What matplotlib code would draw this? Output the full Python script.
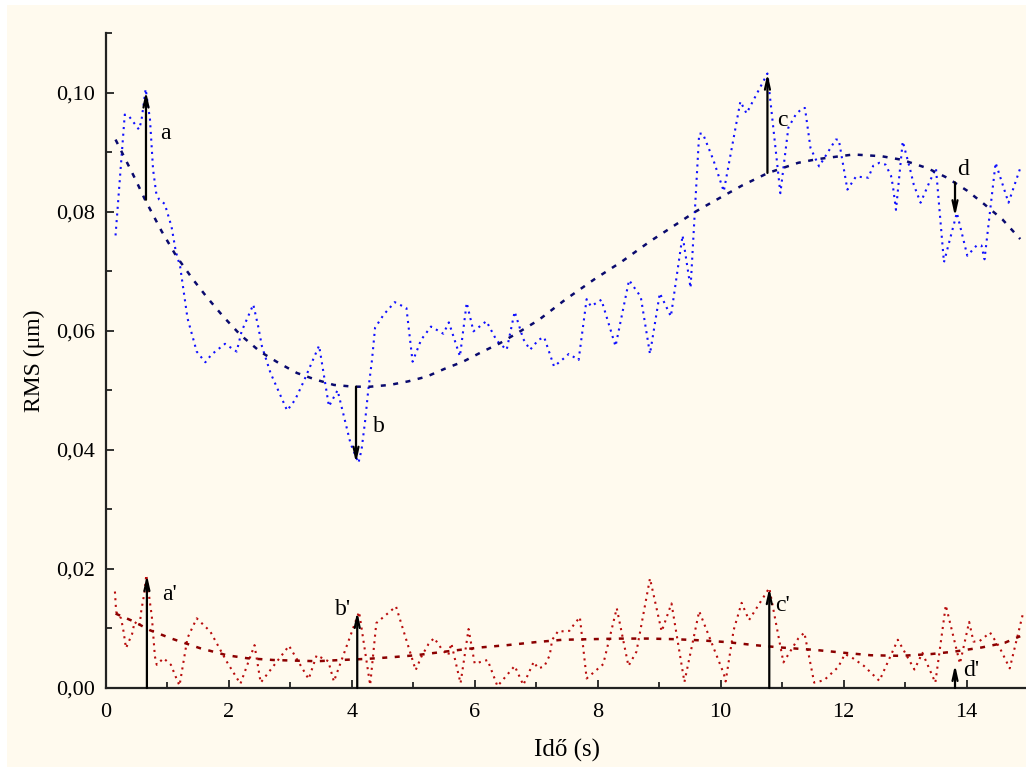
import matplotlib
matplotlib.use('Agg')
import matplotlib.pyplot as plt
from matplotlib.ticker import MultipleLocator, FuncFormatter
from matplotlib.patches import Rectangle

# measured RMS, upper series (blue)
t_blue = [0.16, 0.31, 0.38, 0.46, 0.54, 0.58, 0.65, 0.72, 0.77, 0.82, 0.87, 0.96,
          1.07, 1.14, 1.21, 1.33, 1.48, 1.62, 1.72, 1.94, 2.13, 2.21, 2.40, 2.48,
          2.54, 2.68, 2.95, 3.08, 3.22, 3.47, 3.63, 3.77, 3.90, 3.98, 4.11, 4.16,
          4.22, 4.27, 4.33, 4.38, 4.52, 4.70, 4.89, 4.99, 5.13, 5.29, 5.49, 5.58,
          5.76, 5.87, 5.98, 6.19, 6.36, 6.52, 6.65, 6.79, 6.90, 7.04, 7.13, 7.29,
          7.42, 7.53, 7.69, 7.82, 7.89, 8.06, 8.29, 8.51, 8.70, 8.85, 9.01, 9.19,
          9.38, 9.51, 9.65, 9.71, 9.88, 10.05, 10.32, 10.42, 10.76, 10.97, 11.10, 11.22,
          11.33, 11.37, 11.46, 11.60, 11.87, 11.92, 12.06, 12.20, 12.40, 12.48, 12.58, 12.68,
          12.77, 12.80, 12.85, 12.96, 13.08, 13.14, 13.25, 13.40, 13.50, 13.63, 13.84, 14.01,
          14.16, 14.24, 14.29, 14.47, 14.68, 14.88]
rms_blue = [0.0760, 0.0963, 0.0960, 0.0949, 0.0938, 0.0952, 0.1006, 0.0955, 0.0871, 0.0832, 0.0820, 0.0813,
            0.0775, 0.0733, 0.0708, 0.0621, 0.0565, 0.0547, 0.0560, 0.0578, 0.0565, 0.0599, 0.0644, 0.0607,
            0.0574, 0.0529, 0.0466, 0.0484, 0.0515, 0.0575, 0.0473, 0.0500, 0.0445, 0.0411, 0.0378, 0.0400,
            0.0450, 0.0501, 0.0551, 0.0605, 0.0627, 0.0648, 0.0638, 0.0548, 0.0585, 0.0607, 0.0595, 0.0614,
            0.0557, 0.0647, 0.0599, 0.0616, 0.0583, 0.0568, 0.0632, 0.0586, 0.0568, 0.0585, 0.0589, 0.0540,
            0.0551, 0.0561, 0.0551, 0.0653, 0.0641, 0.0652, 0.0574, 0.0685, 0.0657, 0.0561, 0.0663, 0.0624,
            0.0760, 0.0672, 0.0931, 0.0931, 0.0887, 0.0834, 0.0985, 0.0965, 0.1032, 0.0831, 0.0941, 0.0963,
            0.0974, 0.0974, 0.0907, 0.0876, 0.0921, 0.0921, 0.0837, 0.0859, 0.0857, 0.0877, 0.0882, 0.0879,
            0.0860, 0.0843, 0.0803, 0.0918, 0.0871, 0.0845, 0.0815, 0.0851, 0.0873, 0.0715, 0.0798, 0.0726,
            0.0743, 0.0743, 0.0720, 0.0882, 0.0815, 0.0876]

# trend of the upper series
t_blue_fit = [0.16, 0.47, 0.64, 0.91, 1.15, 1.42, 1.64, 1.91, 2.19, 2.51, 2.81, 3.11, 3.41, 3.71,
              4.03, 4.30, 4.62, 4.92, 5.22, 5.51, 5.81, 6.11, 6.41, 6.74, 7.04, 7.47, 7.94, 8.39,
              8.85, 9.31, 9.59, 9.88, 10.35, 10.77, 11.26, 11.56, 12.16, 12.62, 12.95, 13.36, 13.68,
              14.01, 14.28, 14.58, 14.87]
fit_blue = [0.0921, 0.0857, 0.0820, 0.0767, 0.0725, 0.0686, 0.0657, 0.0624, 0.0593, 0.0565, 0.0546,
            0.0529, 0.0518, 0.0509, 0.0506, 0.0506, 0.0509, 0.0515, 0.0523, 0.0536, 0.0548, 0.0564,
            0.0579, 0.0599, 0.0618, 0.0652, 0.0686, 0.0716, 0.0750, 0.0781, 0.0800, 0.0817, 0.0844,
            0.0865, 0.0882, 0.0888, 0.0896, 0.0893, 0.0887, 0.0873, 0.0857, 0.0835, 0.0813, 0.0787,
            0.0754]

# measured RMS, lower series (red)
t_red = [0.15, 0.17, 0.25, 0.29, 0.33, 0.43, 0.47, 0.55, 0.58, 0.63, 0.66, 0.75, 0.80, 0.83,
         0.94, 1.06, 1.15, 1.20, 1.33, 1.48, 1.70, 1.97, 2.19, 2.42, 2.52, 2.93, 2.98, 3.30,
         3.43, 3.62, 3.71, 4.12, 4.30, 4.40, 4.72, 5.04, 5.13, 5.25, 5.34, 5.48, 5.57, 5.62,
         5.72, 5.77, 5.90, 6.00, 6.21, 6.37, 6.65, 6.76, 6.79, 6.96, 7.03, 7.13, 7.22, 7.26,
         7.36, 7.45, 7.54, 7.61, 7.71, 7.82, 8.09, 8.31, 8.50, 8.63, 8.85, 9.04, 9.20, 9.41,
         9.65, 10.05, 10.08, 10.21, 10.34, 10.46, 10.79, 11.02, 11.26, 11.36, 11.52, 11.68, 11.91,
         12.02, 12.15, 12.33, 12.58, 12.88, 13.15, 13.28, 13.49, 13.66, 13.89, 14.04, 14.11,
         14.20, 14.38, 14.53, 14.70, 14.91]
rms_red = [0.0162, 0.0128, 0.0117, 0.0095, 0.0067, 0.0091, 0.0111, 0.0104, 0.0131, 0.0160, 0.0190,
           0.0120, 0.0053, 0.0039, 0.0050, 0.0039, 0.0016, 0.0004, 0.0084, 0.0117, 0.0095, 0.0044,
           0.0007, 0.0072, 0.0009, 0.0064, 0.0071, 0.0015, 0.0055, 0.0045, 0.0011, 0.0128, 0.0005,
           0.0109, 0.0137, 0.0030, 0.0052, 0.0074, 0.0084, 0.0063, 0.0055, 0.0075, 0.0030, 0.0008,
           0.0099, 0.0041, 0.0047, 0.0003, 0.0037, 0.0012, 0.0005, 0.0044, 0.0033, 0.0036, 0.0055,
           0.0081, 0.0096, 0.0095, 0.0096, 0.0106, 0.0119, 0.0016, 0.0040, 0.0134, 0.0037, 0.0061,
           0.0184, 0.0095, 0.0142, 0.0010, 0.0129, 0.0024, 0.0011, 0.0097, 0.0143, 0.0114, 0.0168,
           0.0043, 0.0083, 0.0093, 0.0009, 0.0013, 0.0035, 0.0057, 0.0050, 0.0037, 0.0012, 0.0081,
           0.0031, 0.0059, 0.0009, 0.0139, 0.0041, 0.0111, 0.0078, 0.0078, 0.0093, 0.0069, 0.0033,
           0.0123]

# trend of the lower series
t_red_fit = [0.16, 0.45, 0.72, 1.07, 1.53, 1.97, 2.30, 2.73, 3.06, 3.44, 3.82, 4.26, 4.69, 5.04,
             5.51, 6.08, 6.53, 6.99, 7.43, 7.89, 8.38, 8.82, 9.25, 9.68, 10.11, 10.55, 10.98,
             11.53, 12.02, 12.44, 12.93, 13.42, 13.79, 14.24, 14.62, 14.87]
fit_red = [0.0125, 0.0112, 0.0097, 0.0083, 0.0067, 0.0055, 0.0050, 0.0047, 0.0046, 0.0045, 0.0047,
           0.0049, 0.0052, 0.0055, 0.0061, 0.0068, 0.0072, 0.0077, 0.0081, 0.0082, 0.0083, 0.0083,
           0.0082, 0.0080, 0.0077, 0.0072, 0.0068, 0.0064, 0.0059, 0.0055, 0.0054, 0.0057, 0.0061,
           0.0068, 0.0076, 0.0087]

# arrows: label, x, start, end
arrow_names = ['a', 'b', 'c', 'd', "a'", "b'", "c'", "d'"]
arrow_x = [0.655, 4.07, 10.76, 13.81, 0.67, 4.09, 10.79, 13.81]
arrow_from = [0.0820, 0.0506, 0.0865, 0.0849, 0.0, 0.0, 0.0, 0.0]
arrow_to = [0.1002, 0.0378, 0.1032, 0.0792, 0.0190, 0.0128, 0.0168, 0.0039]
label_x = [0.88, 4.35, 10.92, 13.84, 0.91, 3.73, 10.88, 13.95]
label_y = [0.0931, 0.0439, 0.0953, 0.0871, 0.0157, 0.0131, 0.0138, 0.0029]

plt.rcParams['font.family'] = ['Liberation Serif', 'DejaVu Serif']
bg = '#fffaee'

fig = plt.figure(figsize=(10.26, 7.67), dpi=100, facecolor='white')
fig.patches.append(Rectangle((7 / 1026, 0), 1, 1 - 5 / 767, transform=fig.transFigure,
                             facecolor=bg, edgecolor='none', zorder=-10))
ax = fig.add_axes([105.7 / 1026, 1 - 688 / 767, 922.5 / 1026, 655 / 767])
ax.set_facecolor(bg)

ax.plot(t_blue, rms_blue, color='#1010ff', lw=1.5, dashes=(1, 2.2))
ax.plot(t_blue_fit, fit_blue, color='#0a0a6e', lw=1.8, dashes=(2, 3))
ax.plot(t_red, rms_red, color='#b80c0c', lw=1.5, dashes=(1, 2.2))
ax.plot(t_red_fit, fit_red, color='#8b0000', lw=1.8, dashes=(2, 3))

for name, x, y0, y1, lx, ly in zip(arrow_names, arrow_x, arrow_from, arrow_to, label_x, label_y):
    ax.annotate('', xy=(x, y1), xytext=(x, y0),
                arrowprops=dict(arrowstyle='->,head_length=0.8,head_width=0.18',
                                color='black', lw=1.6, shrinkA=0, shrinkB=0))
    ax.text(lx, ly, name, fontsize=17, ha='left', va='center')

ax.set_xlim(0, 15)
ax.set_ylim(0, 0.11)
ax.xaxis.set_major_locator(MultipleLocator(2))
ax.xaxis.set_minor_locator(MultipleLocator(1))
ax.yaxis.set_major_locator(MultipleLocator(0.02))
ax.yaxis.set_minor_locator(MultipleLocator(0.01))
ax.yaxis.set_major_formatter(FuncFormatter(lambda v, p: f'{v:.2f}'.replace('.', ',')))
ax.tick_params(which='both', direction='in', labelsize=16, color='#222222', width=1.3)
ax.tick_params(which='major', length=6)
ax.tick_params(axis='x', which='major', pad=11)
ax.tick_params(axis='y', which='major', pad=8)
ax.tick_params(which='minor', length=4)
for s in ['top', 'right']:
    ax.spines[s].set_visible(False)
for s in ['left', 'bottom']:
    ax.spines[s].set_linewidth(1.6)
    ax.spines[s].set_color('#222222')

ax.set_xlabel('Idő (s)', fontsize=18, labelpad=12)
ax.set_ylabel('RMS (μm)', fontsize=17, labelpad=8)

plt.savefig('out.png', dpi=100, facecolor=fig.get_facecolor())
